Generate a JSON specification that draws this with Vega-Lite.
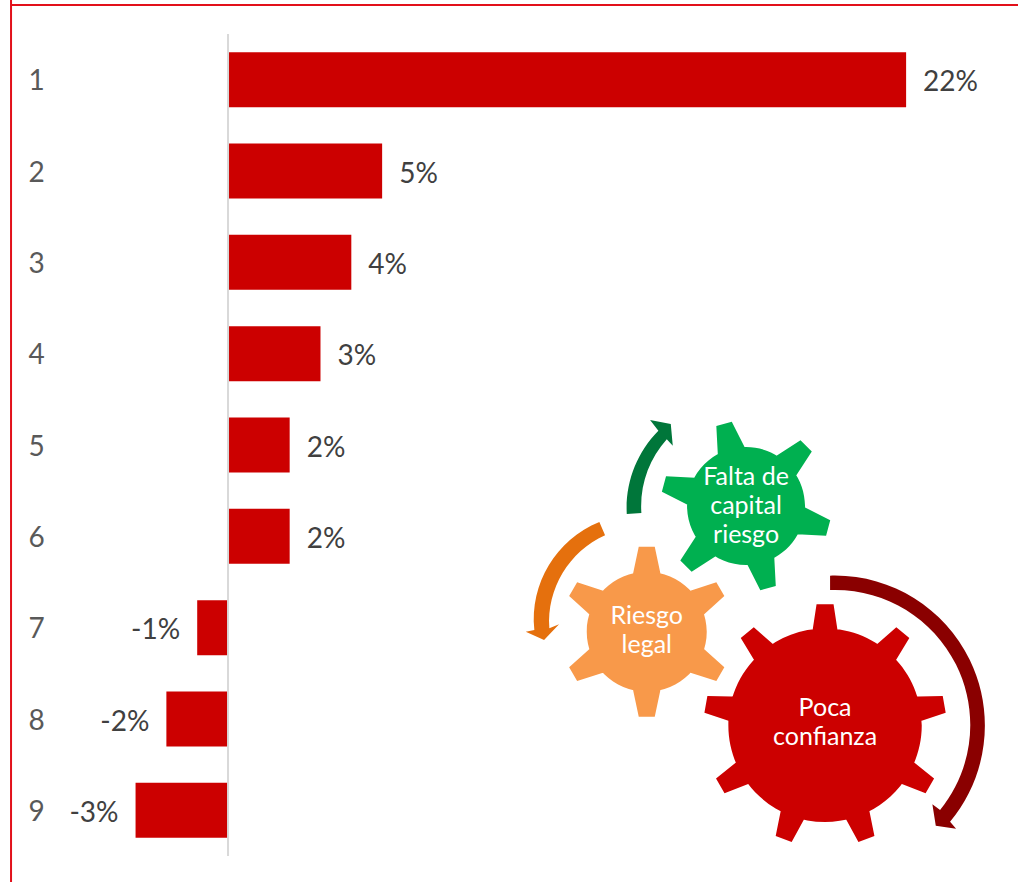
{
"$schema":"https://vega.github.io/schema/vega-lite/v6.json",
"width":1018,"height":882,"padding":0,"autosize":{"type":"none"},"background":"#ffffff",
"config":{"view":{"stroke":null}},
"datasets":{
"bars":[
{"row":1,"value":0.22,"label":"22%"},{"row":2,"value":0.05,"label":"5%"},{"row":3,"value":0.04,"label":"4%"},
{"row":4,"value":0.03,"label":"3%"},{"row":5,"value":0.02,"label":"2%"},{"row":6,"value":0.02,"label":"2%"},
{"row":7,"value":-0.01,"label":"-1%"},{"row":8,"value":-0.02,"label":"-2%"},{"row":9,"value":-0.03,"label":"-3%"}],
"gears":[
{"name":"Poca confianza","label":"Poca\nconfianza","value":0.1937,"row":7.876},
{"name":"Riesgo legal","label":"Riesgo\nlegal","value":0.13585,"row":6.872},
{"name":"Falta de capital riesgo","label":"Falta de\ncapital\nriesgo","value":0.16807,"row":5.347}]
},
"encoding":{
"x":{"field":"value","type":"quantitative","axis":null,"scale":{"domain":[-0.07398,0.2563],"nice":false,"zero":false,"padding":0}},
"y":{"field":"row","type":"quantitative","scale":{"domain":[0.1273,9.7847],"reverse":true,"nice":false,"zero":false,"padding":0},
"axis":{"values":[1,2,3,4,5,6,7,8,9],"format":"d","domain":false,"ticks":false,"grid":false,"title":null,"labelAlign":"center","labelBaseline":"middle","labelOffset":2,"labelPadding":-36,"labelFontSize":28,"labelColor":"#595959","labelFont":"Lato","labelOverlap":false,"labelBound":false,"labelFlush":false}}
},
"layer":[
{"data":{"values":[{"value":-0.0704,"row":0.1273,"row2":9.7847}]},"mark":{"type":"rule","color":"#E2101A","strokeWidth":2},"encoding":{"y":{"field":"row","type":"quantitative"},"y2":{"field":"row2"}}},
{"data":{"values":[{"value":-0.0704,"value2":0.2563,"row":0.182}]},"mark":{"type":"rule","color":"#E2101A","strokeWidth":2},"encoding":{"x2":{"field":"value2"}}},
{"data":{"name":"bars"},"mark":{"type":"bar","orient":"horizontal","size":55,"color":"#CC0000"},"encoding":{"x2":{"datum":0}}},
{"data":{"values":[{"value":0,"row":0.5,"row2":9.5}]},"mark":{"type":"rule","color":"#D9D9D9","strokeWidth":2},"encoding":{"y2":{"field":"row2"}}},
{"data":{"name":"bars"},"transform":[{"filter":"datum.value>=0"}],"mark":{"type":"text","align":"left","baseline":"middle","dx":17,"dy":3.5,"fontSize":28,"font":"Lato","color":"#404040"},"encoding":{"text":{"field":"label"}}},
{"data":{"name":"bars"},"transform":[{"filter":"datum.value<0"}],"mark":{"type":"text","align":"right","baseline":"middle","dx":-17,"dy":3.5,"fontSize":28,"font":"Lato","color":"#404040"},"encoding":{"text":{"field":"label"}}},
{"data":{"values":[{"name":"Falta de capital riesgo","value":0.16807,"row":5.6677}]},"mark":{"type":"point","filled":true,"opacity":1,"strokeWidth":0,"size":4,"color":"#00B050",
"shape":"M0,-59A59,59,0,1,1,0,59A59,59,0,1,1,0,-59Z M-27.95,-46.35L-29.73,-80.03L-14.27,-84.17L1.03,-54.11Z M26.16,-47.38L54.44,-65.77L65.75,-54.45L47.38,-26.17Z M54.11,-1.04L84.18,14.26L80.03,29.71L46.35,27.94Z M27.95,46.35L29.73,80.03L14.27,84.17L-1.03,54.11Z M-26.16,47.38L-54.44,65.77L-65.75,54.45L-47.38,26.17Z M-54.11,1.04L-84.18,-14.26L-80.03,-29.71L-46.35,-27.94Z"}},
{"data":{"values":[{"name":"Riesgo legal","value":0.13585,"row":7.044}]},"mark":{"type":"point","filled":true,"opacity":1,"strokeWidth":0,"size":4,"color":"#F8994A",
"shape":"M0,-60A60,60,0,1,1,0,60A60,60,0,1,1,0,-60Z M-15,-52L-8,-85L8,-85L15,-52Z M37.5,-39L69.6,-49.4L77.6,-35.6L52.5,-13Z M52.5,13L77.6,35.6L69.6,49.4L37.5,39Z M15,52L8,85L-8,85L-15,52Z M-37.5,39L-69.6,49.4L-77.6,35.6L-52.5,13Z M-52.5,-13L-77.6,-35.6L-69.6,-49.4L-37.5,-39Z"}},
{"data":{"values":[{"name":"Poca confianza","value":0.1937,"row":8.069}]},"mark":{"type":"point","filled":true,"opacity":1,"strokeWidth":0,"size":4,"color":"#CC0000",
"shape":"M0,-96.7A96.7,96.7,0,1,1,0,96.7A96.7,96.7,0,1,1,0,-96.7Z M-14,-85L-8.5,-121L8.5,-121L14,-85Z M43.92,-74.11L71.27,-98.15L84.29,-87.23L65.36,-56.11Z M81.28,-28.55L117.68,-29.38L120.64,-12.64L86.14,-0.97Z M80.61,30.38L109.04,53.14L100.54,67.86L66.61,54.62Z M42.23,75.08L49.37,110.79L33.39,116.61L15.91,84.66Z M-15.91,84.66L-33.39,116.61L-49.37,110.79L-42.23,75.08Z M-66.61,54.62L-100.54,67.86L-109.04,53.14L-80.61,30.38Z M-86.14,-0.97L-120.64,-12.64L-117.68,-29.38L-81.28,-28.55Z M-65.36,-56.11L-84.29,-87.23L-71.27,-98.15L-43.92,-74.11Z"}},
{"data":{"values":[{"name":"Flecha roja","value":0.19533,"row":8.1204}]},"mark":{"type":"point","filled":true,"opacity":1,"strokeWidth":0,"size":4,"color":"#8A0000",
"shape":"M0,-154.3A150,150,0,0,1,120,91.7L126,98.7L105.7,95.7L102.3,74.3L110,80A135,135,0,0,0,0,-140Z"}},
{"data":{"values":[{"name":"Flecha verde","value":0.13693,"row":5.2735}]},"mark":{"type":"point","filled":true,"opacity":1,"strokeWidth":0,"size":4,"color":"#00763A",
"shape":"M-23.3,44A110,110,0,0,1,8.3,-39.3L0,-50L20.7,-46L22.7,-24.3L16.7,-30.7A100,100,0,0,0,-8.7,43Z"}},
{"data":{"values":[{"name":"Flecha naranja","value":0.11097,"row":6.4779}]},"mark":{"type":"point","filled":true,"opacity":1,"strokeWidth":0,"size":4,"color":"#E5700D",
"shape":"M29.3,-58A105,105,0,0,0,-35.7,50L-44.3,51.7L-26,60L-11,44.3L-20.7,48.3A95,95,0,0,1,35,-44.7Z"}},
{"data":{"name":"gears"},"mark":{"type":"text","align":"center","baseline":"middle","fontSize":25,"font":"Lato","color":"#FFFFFF","lineBreak":"\n","lineHeight":29},"encoding":{"text":{"field":"label"}}}
]
}
